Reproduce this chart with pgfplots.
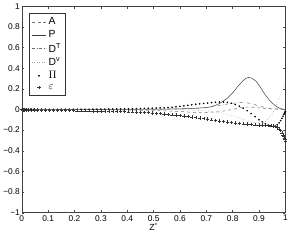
\documentclass[border=0pt]{standalone}
\usepackage{fontspec}
\setmainfont{Liberation Sans}
\usepackage{pgfplots}
\usepackage{pgfplotstable}
\pgfplotsset{compat=1.18}
\pgfplotsset{
  linelegend/.style={legend image code/.code={\draw[##1] (0pt,0pt) -- (15pt,0pt);}},
  marklegend/.style={legend image code/.code={\draw[##1] plot coordinates {(7.5pt,0pt)};}},
}
\pgfplotstableread{
z Pi eps
0 0 0
0.002 0.000 -0.002
0.005 0.001 -0.004
0.01 0.001 -0.005
0.016 0.001 -0.006
0.024 0.001 -0.006
0.034 0.001 -0.006
0.046 0.001 -0.006
0.06 0.001 -0.007
0.075 0.001 -0.007
0.09 0.001 -0.008
0.105 0.001 -0.008
0.12 0.001 -0.009
0.135 0.001 -0.009
0.15 0.002 -0.010
0.165 0.002 -0.010
0.18 0.002 -0.011
0.195 0.002 -0.011
0.21 0.002 -0.012
0.225 0.002 -0.012
0.24 0.002 -0.013
0.255 0.003 -0.013
0.27 0.003 -0.014
0.285 0.003 -0.015
0.30 0.003 -0.016
0.315 0.003 -0.016
0.33 0.004 -0.017
0.345 0.004 -0.018
0.36 0.005 -0.019
0.375 0.005 -0.020
0.39 0.006 -0.021
0.405 0.006 -0.022
0.42 0.007 -0.023
0.435 0.008 -0.025
0.45 0.009 -0.027
0.465 0.010 -0.029
0.48 0.011 -0.031
0.495 0.012 -0.034
0.51 0.013 -0.037
0.525 0.015 -0.040
0.54 0.016 -0.043
0.555 0.019 -0.047
0.57 0.022 -0.051
0.585 0.026 -0.055
0.60 0.030 -0.059
0.615 0.035 -0.063
0.63 0.040 -0.068
0.645 0.045 -0.072
0.66 0.050 -0.077
0.675 0.054 -0.082
0.69 0.058 -0.088
0.705 0.062 -0.094
0.72 0.066 -0.100
0.735 0.069 -0.106
0.75 0.072 -0.112
0.765 0.072 -0.117
0.78 0.068 -0.122
0.795 0.060 -0.127
0.81 0.048 -0.131
0.825 0.032 -0.135
0.84 0.012 -0.139
0.855 -0.012 -0.142
0.87 -0.040 -0.145
0.885 -0.070 -0.148
0.90 -0.100 -0.150
0.912 -0.120 -0.152
0.924 -0.138 -0.154
0.935 -0.150 -0.156
0.945 -0.158 -0.158
0.954 -0.162 -0.161
0.962 -0.158 -0.166
0.969 -0.148 -0.174
0.976 -0.130 -0.187
0.982 -0.108 -0.205
0.987 -0.085 -0.225
0.991 -0.065 -0.245
0.994 -0.048 -0.262
0.996 -0.036 -0.276
0.998 -0.026 -0.292
1.0 -0.020 -0.310
}\markdata
\pgfplotstableread{
z val
0 0
0.3 -0.003
0.5 -0.010
0.6 -0.020
0.65 -0.028
0.7 -0.030
0.75 -0.022
0.8 0.000
0.83 0.018
0.86 0.024
0.9 0.015
0.95 0.005
1 0
}\Adata
\pgfplotstableread{
z val
0 0
0.3 0.001
0.5 0.002
0.6 0.006
0.65 0.010
0.7 0.018
0.72 0.027
0.74 0.045
0.76 0.072
0.78 0.110
0.8 0.160
0.82 0.225
0.84 0.280
0.85 0.300
0.86 0.310
0.87 0.305
0.88 0.290
0.89 0.270
0.9 0.235
0.91 0.195
0.92 0.155
0.93 0.120
0.94 0.088
0.95 0.062
0.96 0.040
0.97 0.022
0.98 0.010
0.99 0.003
1.0 -0.005
}\Pdata
\pgfplotstableread{
z val
0 0
0.5 0
0.6 0.003
0.65 0.008
0.7 0.020
0.75 0.040
0.8 0.060
0.83 0.066
0.86 0.062
0.88 0.050
0.9 0.032
0.93 0.015
0.96 0.006
1 0
}\DTdata
\pgfplotstableread{
z val
0 0
0.5 0
0.6 -0.003
0.65 -0.008
0.7 -0.015
0.75 -0.030
0.8 -0.060
0.84 -0.095
0.87 -0.120
0.9 -0.132
0.92 -0.125
0.94 -0.080
0.955 -0.020
0.965 0.030
0.975 0.090
0.985 0.160
0.993 0.220
1 0.270
}\DVdata
\begin{document}
\begin{tikzpicture}
\begin{axis}[
  scale only axis,
  width=268pt, height=210pt,
  xmin=0, xmax=1, ymin=-1, ymax=1,
  xtick={0,0.1,0.2,0.3,0.4,0.5,0.6,0.7,0.8,0.9,1},
  xticklabels={0,0.1,0.2,0.3,0.4,0.5,0.6,0.7,0.8,0.9,1},
  ytick={-1,-0.8,-0.6,-0.4,-0.2,0,0.2,0.4,0.6,0.8,1},
  yticklabels={−1,−0.8,−0.6,−0.4,−0.2,0,0.2,0.4,0.6,0.8,1},
  tick align=inside,
  major tick length=2.5pt,
  tick style={black!70, line width=0.4pt},
  axis line style={black!75, line width=0.5pt},
  tick label style={font=\fontsize{8.5}{9}\selectfont},
  xticklabel style={yshift=1pt},
  yticklabel style={xshift=1.5pt},
  xlabel={Z\textsuperscript{*}},
  xlabel style={font=\fontsize{9}{9}\selectfont, yshift=5pt},
  legend style={at={(0,1)}, anchor=north west, xshift=7pt, yshift=-7pt,
    draw=black!80, line width=0.5pt, font=\fontsize{10.5}{12}\selectfont,
    row sep=0.3pt, inner sep=2.5pt, cells={anchor=west}},
  legend cell align=left,
  linelegend,
]
\addplot[black!55, dashed, line width=0.5pt] table[x=z,y=val] {\Adata};
\addlegendentry{A}
\addplot[black!75, solid, line width=0.5pt] table[x=z,y=val] {\Pdata};
\addlegendentry{P}
\addplot[black!60, dash dot, line width=0.5pt] table[x=z,y=val] {\DTdata};
\addlegendentry{D\textsuperscript{T}}
\addplot[black!35, dotted, line width=0.6pt] table[x=z,y=val] {\DVdata};
\addlegendentry{D\textsuperscript{v}}
\addplot[only marks, mark=*, mark size=0.6pt, black, marklegend] table[x=z,y=Pi] {\markdata};
\addlegendentry{$\Pi$}
\addplot[only marks, mark=+, mark size=1.7pt, black!80, mark options={line width=0.35pt}, marklegend] table[x=z,y=eps] {\markdata};
\addlegendentry{$\varepsilon$}
\end{axis}
\end{tikzpicture}
\end{document}
